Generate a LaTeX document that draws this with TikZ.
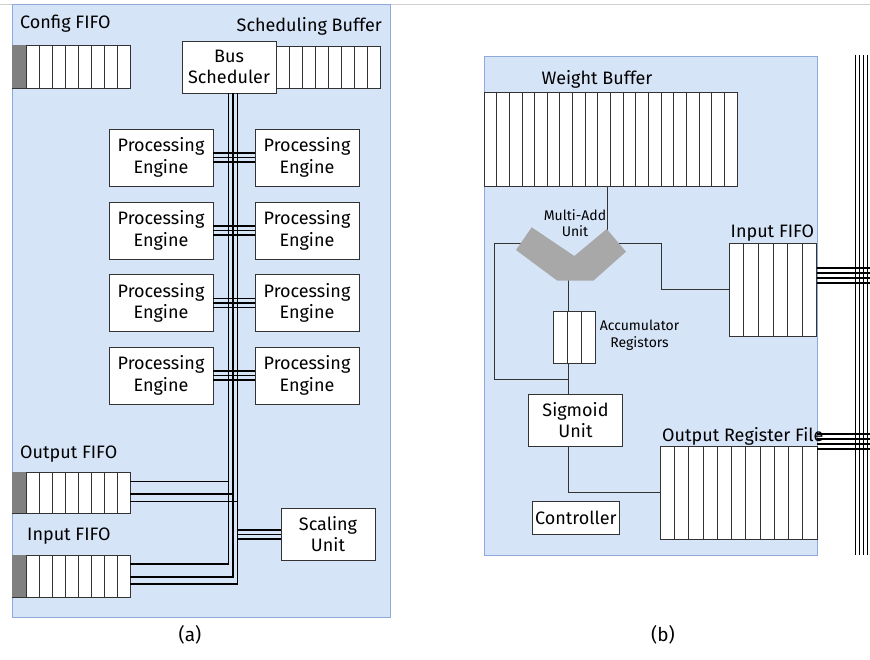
\documentclass[tikz,border=0pt]{standalone}
\usepackage{fontspec}
\setmainfont{Fira Sans}
\definecolor{bgblue}{HTML}{D6E4F8}
\definecolor{bgedge}{HTML}{8EA9DB}
\definecolor{cellgray}{HTML}{808080}
\definecolor{maugray}{HTML}{A8A8A8}
\definecolor{edgec}{HTML}{333333}
\definecolor{topline}{HTML}{D0D0D0}
\newcommand\mylbl{\fontsize{18}{21.5}\selectfont}
\newcommand\mysmall{\fontsize{14}{16.5}\selectfont}
\newcommand\mycap{\fontsize{19}{21}\selectfont}
\tikzset{
  panel/.style={fill=bgblue, draw=bgedge, line width=1pt},
  box/.style={draw=edgec, fill=white, line width=0.9pt, align=center, inner sep=0pt, font=\mylbl},
  cellbox/.style={draw=edgec, fill=white, line width=0.9pt, inner sep=0pt},
  divider/.style={draw=edgec, line width=0.9pt},
  bus/.style={draw=black, line width=1.7pt},
  wire/.style={draw=edgec, line width=1pt},
  lbl/.style={inner sep=0pt, font=\mylbl},
  smalllbl/.style={inner sep=0pt, font=\mysmall, align=center},
}
\begin{document}
\begin{tikzpicture}[x=1pt,y=-1pt]
\useasboundingbox (0,0) rectangle (870,660);
\draw[topline, line width=0.8pt] (0,4) -- (870,4);

% ================= Panel (a) =================
\draw[panel] (12,5) rectangle (390,617);

% Config FIFO
\node[lbl, anchor=west] (cfglbl) at (20,24) {Config FIFO};
\node[cellbox, minimum width=118pt, minimum height=43pt] (cfg) at (71,66.5) {};
\fill[cellgray] (12.45,45.45) rectangle (26,87.55);
\foreach \x in {26,39,...,117} \draw[divider] (\x,45) -- (\x,88);

% Scheduling buffer
\node[lbl, anchor=east] (schedlbl) at (382,26) {Scheduling Buffer};
\node[cellbox, minimum width=104pt, minimum height=42pt] (sbuf) at (328,67) {};
\foreach \x in {289,302,...,367} \draw[divider] (\x,46) -- (\x,88);

% Bus scheduler
\node[box, minimum width=94pt, minimum height=52pt] (sched) at (229,67) {Bus\\Scheduler};

% Processing engines
\foreach \r/\y in {1/157.5,2/230.5,3/303,4/375.5}{
  \node[box, minimum width=104pt, minimum height=57pt] (peL\r) at (161,\y) {Processing\\Engine};
  \node[box, minimum width=104pt, minimum height=57pt] (peR\r) at (307,\y) {Processing\\Engine};
}

% Output FIFO
\node[lbl, anchor=west] (ofifolbl) at (20,454) {Output FIFO};
\node[cellbox, minimum width=118pt, minimum height=41pt] (ofifo) at (71,492.5) {};
\fill[cellgray] (12.45,472.45) rectangle (26,512.55);
\foreach \x in {26,39,...,117} \draw[divider] (\x,472) -- (\x,513);

% Input FIFO
\node[lbl, anchor=west] (ififolbl) at (27,536) {Input FIFO};
\node[cellbox, minimum width=118pt, minimum height=42pt] (ififo) at (71,576) {};
\fill[cellgray] (12.45,555.45) rectangle (26,596.55);
\foreach \x in {26,39,...,117} \draw[divider] (\x,555) -- (\x,597);

% Scaling unit
\node[box, minimum width=94pt, minimum height=52pt] (scal) at (328,534) {Scaling\\Unit};

% bus coordinates
\coordinate (b1) at (228.5,93);
\coordinate (b2) at (233,93);
\coordinate (b3) at (237.5,93);
\coordinate (i1) at (130,564);
\coordinate (i2) at (130,577);
\coordinate (i3) at (130,584);
\coordinate (o1) at (130,481.5);
\coordinate (o2) at (130,494);
\coordinate (o3) at (130,501.5);
\coordinate (s1) at (281,530);
\coordinate (s2) at (281,534.5);
\coordinate (s3) at (281,539);

\draw[bus] (b1) |- (i1);
\draw[bus] (b2) |- (i2);
\draw[bus] (b3) |- (i3);
\draw[bus] (o1) -- (o1 -| b1);
\draw[bus] (o2) -- (o2 -| b2);
\draw[bus] (o3) -- (o3 -| b3);
\draw[bus] (s1) -- (s1 -| b3);
\draw[bus] (s2) -- (s2 -| b3);
\draw[bus] (s3) -- (s3 -| b3);

\foreach \r in {1,...,4}{
  \foreach \d in {-4.5,0,4.5}{
    \draw[bus] ([yshift=\d pt]peL\r.east) -- ([yshift=\d pt]peR\r.west);
  }
}

\node[inner sep=0pt, font=\mycap] (capa) at (190,635) {(a)};

% ================= Panel (b) =================
\draw[panel] (484,57) rectangle (817,555);

% Weight buffer
\node[lbl] (wblbl) at (597,79) {Weight Buffer};
\node[cellbox, minimum width=253pt, minimum height=94pt] (wb) at (610.5,139) {};
\foreach \k in {1,...,19} \draw[divider] (484+12.65*\k,92) -- (484+12.65*\k,186);

% Input FIFO (b)
\node[lbl, anchor=west] (bififolbl) at (730.5,233) {Input FIFO};
\node[cellbox, minimum width=87.4pt, minimum height=93.4pt] (bififo) at (773,290) {};
\foreach \k in {1,...,5} \draw[divider] (729.3+14.57*\k,243.3) -- (729.3+14.57*\k,336.7);

% Accumulator registers
\node[cellbox, minimum width=41.7pt, minimum height=52pt] (acc) at (574.2,337) {};
\draw[divider] (567.7,311) -- (567.7,363);
\draw[divider] (581,311) -- (581,363);
\node[smalllbl] (acclbl) at (639.5,335) {Accumulator\\Registors};

% Sigmoid, controller
\node[box, minimum width=94.4pt, minimum height=51.7pt] (sig) at (575.5,420.2) {Sigmoid\\Unit};
\node[box, minimum width=87pt, minimum height=33.3pt] (ctrl) at (575.8,517.7) {Controller};

% Output register file
\node[cellbox, minimum width=156.7pt, minimum height=93.3pt] (orf) at (738.65,492.65) {};
\foreach \k in {1,...,10} \draw[divider] (660.3+14.245*\k,446) -- (660.3+14.245*\k,539.3);
\node[lbl, anchor=west] (orflbl) at (662,436) {Output Register File};

% Multi-add unit connectors
\coordinate (mauL) at (526,243.3);
\coordinate (mauR) at (617,243.3);
\coordinate (mauT) at (607.7,232);
\coordinate (mauB) at (568,280);
\coordinate (loopL) at (494.3,379);
\coordinate (accB) at (568,363);
\coordinate (sigT) at (568,394.3);
\coordinate (sigB) at (568,446);
\coordinate (accT) at (568,311);

\draw[wire] (wb.south -| mauT) -- (mauT);
\draw[wire] (mauL) -| (loopL) -- (loopL -| sigT);
\draw[wire] (mauR) -- (661,243.3) |- (bififo.west);
\draw[wire] (mauB) -- (accT);
\draw[wire] (accB) -- (sigT);
\draw[wire] (sigB) |- (orf.west);

\fill[maugray] (531.7,227.3) -- (516,250) -- (557.3,280.7) -- (593.3,280.7)
  -- (626,251.7) -- (606.7,229) -- (574.3,256) -- cycle;
\node[smalllbl] (maulbl) at (575,223) {Multi-Add\\Unit};

% right bus
\coordinate (rb1) at (855.5,55);
\coordinate (rb2) at (859.5,55);
\coordinate (rb3) at (863.5,55);
\coordinate (rb4) at (867.5,55);
\foreach \c in {rb1,rb2,rb3,rb4} \draw[bus] (\c) -- ++(0,500);
\foreach \yy in {268,273,278,283} \draw[bus] (816.7,\yy) -- (870,\yy);
\foreach \yy in {434,439,444,449} \draw[bus] (817,\yy) -- (870,\yy);

\node[inner sep=0pt, font=\mycap] (capb) at (663,635) {(b)};
\end{tikzpicture}
\end{document}
